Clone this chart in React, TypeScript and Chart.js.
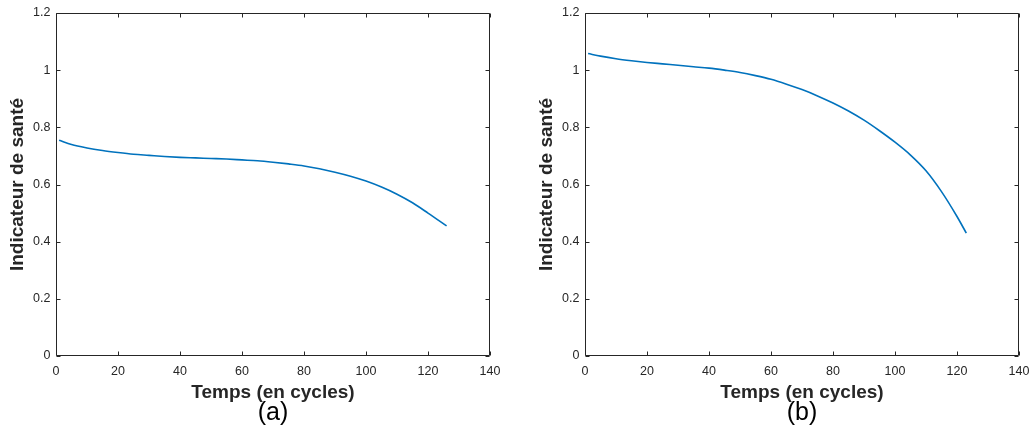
import React, { useEffect, useRef } from "react";
import { Chart, registerables } from "chart.js";

Chart.register(...registerables);

// ---- data ----
const cyclesA = [1, 5, 10, 15, 20, 25, 30, 35, 40, 45, 50, 55, 60, 65, 70, 75, 80, 85, 90, 95, 100, 105, 110, 115, 120, 126];
const healthA = [0.755, 0.74, 0.728, 0.719, 0.712, 0.706, 0.702, 0.698, 0.695, 0.693, 0.691, 0.689, 0.686, 0.683, 0.678, 0.672, 0.665, 0.655, 0.643, 0.629, 0.612, 0.591, 0.566, 0.536, 0.5, 0.455];

const cyclesB = [1, 5, 10, 15, 20, 25, 30, 35, 40, 45, 50, 55, 60, 65, 70, 75, 80, 85, 90, 95, 100, 105, 110, 115, 120, 123];
const healthB = [1.058, 1.049, 1.04, 1.033, 1.027, 1.022, 1.017, 1.012, 1.007, 1.0, 0.992, 0.981, 0.968, 0.951, 0.932, 0.91, 0.885, 0.857, 0.825, 0.788, 0.748, 0.703, 0.648, 0.575, 0.488, 0.43];

const xTicks = [0, 20, 40, 60, 80, 100, 120, 140];
const yTicks = [0, 0.2, 0.4, 0.6, 0.8, 1, 1.2];
const yTickLabels = ["0", "0.2", "0.4", "0.6", "0.8", "1", "1.2"];
const xTitle = "Temps (en cycles)";
const yTitle = "Indicateur de santé";
const captions = ["(a)", "(b)"];

const FONT = '"Liberation Sans", Arial, Helvetica, sans-serif';
const DARK = "#262626";
const LINE = "#0072BD";

const CW = 510;
const CH = 445;

const framePlugin = {
  id: "frame",
  afterDraw(chart: any) {
    const { ctx, chartArea, scales } = chart;
    const { left, right, top, bottom } = chartArea;
    const L = Math.round(left) + 0.5;
    const R = Math.round(right) - 0.5;
    const T = Math.round(top) + 0.5;
    const B = Math.round(bottom) - 0.5;
    ctx.save();
    ctx.strokeStyle = DARK;
    ctx.lineWidth = 1;
    ctx.beginPath();
    ctx.rect(L, T, R - L, B - T);
    const tl = 4;
    for (const v of xTicks) {
      const px = Math.round(scales.x.getPixelForValue(v)) + 0.5;
      ctx.moveTo(px, B);
      ctx.lineTo(px, B - tl);
      ctx.moveTo(px, T);
      ctx.lineTo(px, T + tl);
    }
    for (const v of yTicks) {
      const py = Math.round(scales.y.getPixelForValue(v)) + 0.5;
      ctx.moveTo(L, py);
      ctx.lineTo(L + tl, py);
      ctx.moveTo(R, py);
      ctx.lineTo(R - tl, py);
    }
    ctx.stroke();
    ctx.restore();
  },
};

function Panel({ cycles, health, caption, left }: { cycles: number[]; health: number[]; caption: string; left: number }) {
  const ref = useRef<HTMLCanvasElement | null>(null);
  useEffect(() => {
    if (!ref.current) return;
    const chart = new Chart(ref.current, {
      type: "line",
      data: {
        datasets: [
          {
            data: cycles.map((c, i) => ({ x: c, y: health[i] })),
            borderColor: LINE,
            borderWidth: 1.6,
            pointRadius: 0,
            fill: false,
            cubicInterpolationMode: "monotone",
          },
        ],
      },
      options: {
        animation: false,
        responsive: false,
        maintainAspectRatio: false,
        layout: { padding: { left: 0, top: 13, right: 20, bottom: 41 } },
        plugins: { legend: { display: false }, tooltip: { enabled: false } },
        scales: {
          x: {
            type: "linear",
            min: 0,
            max: 140,
            grid: { display: false, drawTicks: false },
            border: { display: false },
            afterBuildTicks: (s: any) => {
              s.ticks = xTicks.map((v) => ({ value: v }));
            },
            afterFit: (s: any) => {
              s.height = 48;
            },
            ticks: {
              color: DARK,
              font: { family: FONT, size: 12.5 },
              padding: 8.5,
              maxRotation: 0,
              autoSkip: false,
              callback: (v: any) => String(v),
            },
            title: {
              display: true,
              text: xTitle,
              color: DARK,
              font: { family: FONT, size: 19, weight: "bold" },
              padding: { top: 0, bottom: 0 },
            },
          },
          y: {
            type: "linear",
            min: 0,
            max: 1.2,
            grid: { display: false, drawTicks: false },
            border: { display: false },
            afterBuildTicks: (s: any) => {
              s.ticks = yTicks.map((v) => ({ value: v }));
            },
            afterFit: (s: any) => {
              s.width = 56;
            },
            ticks: {
              color: DARK,
              font: { family: FONT, size: 12.5 },
              padding: 5.5,
              autoSkip: false,
              callback: (v: any) => {
                const i = yTicks.findIndex((t) => Math.abs(t - v) < 1e-9);
                return i >= 0 ? yTickLabels[i] : "";
              },
            },
            title: {
              display: true,
              text: yTitle,
              color: DARK,
              font: { family: FONT, size: 19, weight: "bold" },
              padding: { top: 6.5, bottom: 0 },
            },
          },
        },
      },
      plugins: [framePlugin],
    } as any);
    return () => chart.destroy();
  }, [cycles, health]);

  return (
    <>
      <canvas
        ref={ref}
        width={CW}
        height={CH}
        style={{ position: "absolute", left, top: 0, width: CW, height: CH }}
      />
      <div
        style={{
          position: "absolute",
          left: left + 273 - 60,
          width: 120,
          top: 396,
          textAlign: "center",
          fontFamily: FONT,
          fontSize: 25,
          color: "#000",
          lineHeight: "30px",
        }}
      >
        {caption}
      </div>
    </>
  );
}

export default function App() {
  return (
    <div style={{ position: "absolute", left: 0, top: 0, width: 1030, height: 445, background: "#fff", overflow: "hidden" }}>
      <Panel cycles={cyclesA} health={healthA} caption={captions[0]} left={0} />
      <Panel cycles={cyclesB} health={healthB} caption={captions[1]} left={529} />
    </div>
  );
}
